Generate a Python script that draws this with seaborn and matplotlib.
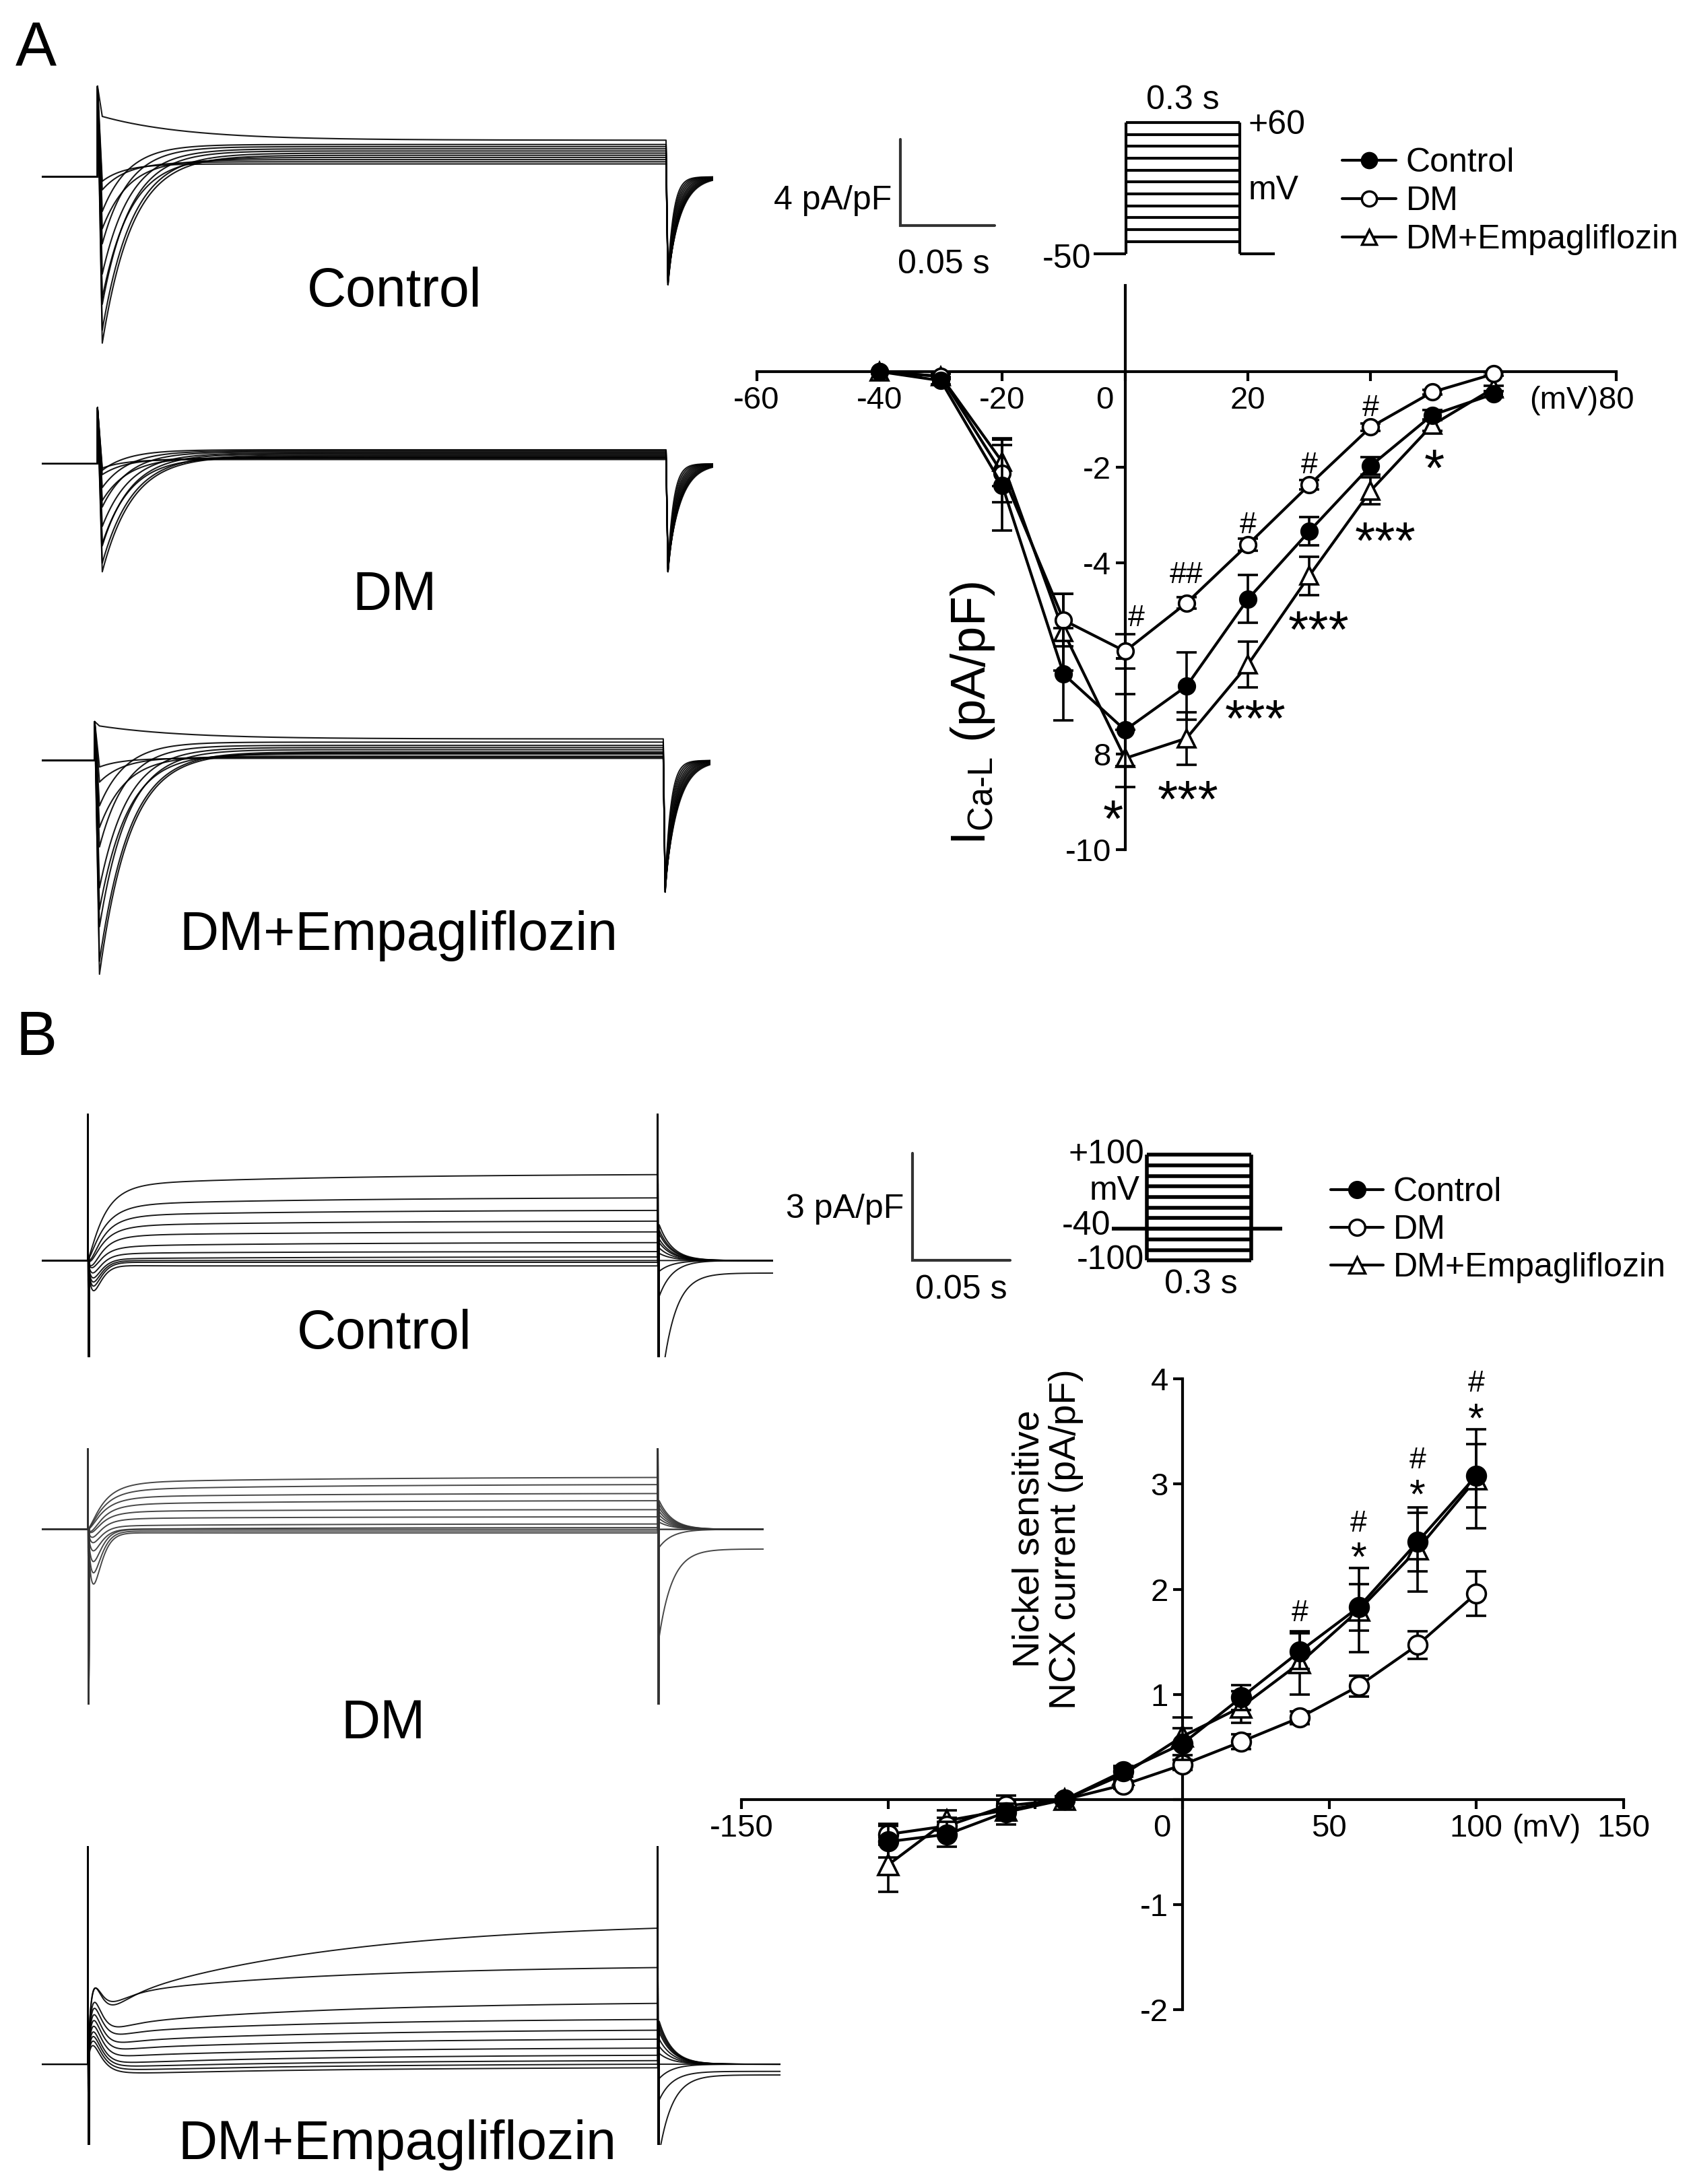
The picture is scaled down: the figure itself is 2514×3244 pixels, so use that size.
import numpy as np
import pandas as pd
import matplotlib
matplotlib.use("Agg")
import matplotlib.pyplot as plt
import matplotlib.transforms as mtransforms
from matplotlib.lines import Line2D
from matplotlib.font_manager import FontProperties
import seaborn as sns

sns.set_theme(style="white", rc={"axes.edgecolor": "black", "text.color": "black",
                                 "xtick.color": "black", "ytick.color": "black",
                                 "axes.labelcolor": "black"})
plt.rcParams["font.family"] = ["Liberation Sans", "DejaVu Sans"]
plt.rcParams["mathtext.fontset"] = "custom"
plt.rcParams["mathtext.rm"] = "Liberation Sans"
plt.rcParams["mathtext.it"] = "Liberation Sans:italic"
plt.rcParams["mathtext.bf"] = "Liberation Sans:bold"
NARROW = ["Liberation Sans Narrow", "Liberation Sans", "DejaVu Sans"]
REG = ["Liberation Sans", "DejaVu Sans"]

# ---------------------------------------------------------------- data
groups = ["Control", "DM", "DM+Empagliflozin"]

# Panel A : L-type Ca current I-V
volt_a = [-40, -30, -20, -10, 0, 10, 20, 30, 40, 50, 60]
ctrl_a = [0.0, -0.19, -2.38, -6.33, -7.50, -6.58, -4.76, -3.34, -1.97, -0.91, -0.47]
ctrl_a_err = [0.0, 0.08, 0.95, 0.97, 0.75, 0.70, 0.50, 0.30, 0.18, 0.10, 0.06]
dm_a = [0.0, -0.10, -2.13, -5.20, -5.85, -4.84, -3.62, -2.37, -1.16, -0.43, -0.05]
dm_a_err = [0.0, 0.05, 0.60, 0.55, 0.36, 0.12, 0.12, 0.10, 0.08, 0.05, 0.03]
emp_a = [0.0, -0.10, -1.89, -5.45, -8.09, -7.67, -6.13, -4.27, -2.49, -1.12, -0.35]
emp_a_err = [0.0, 0.05, 0.50, 0.80, 0.60, 0.55, 0.48, 0.40, 0.28, 0.12, 0.06]
xt_a = [-60, -40, -20, 0, 20, 40, 60, 80]
xt_a_lab = ["-60", "-40", "-20", "0", "20", "", "", "80"]
yt_a = [-10, -8, -6, -4, -2]
yt_a_lab = ["-10", "8", "", "-4", "-2"]
sig_a_x = [1.8, 10, 20, 30, 40, 50.3, 42.4, 31.5, 21.2, 10.2, -2.0]
sig_a_y = [-5.1, -4.2, -3.15, -1.9, -0.7, -1.76, -3.28, -5.15, -7.0, -8.7, -9.1]
sig_a_txt = ["#", "##", "#", "#", "#", "*", "***", "***", "***", "***", "*"]

# Panel B : Ni-sensitive NCX current I-V
volt_b = [-100, -80, -60, -40, -20, 0, 20, 40, 60, 80, 100]
ctrl_b = [-0.40, -0.33, -0.12, 0.0, 0.27, 0.53, 0.97, 1.41, 1.83, 2.45, 3.08]
ctrl_b_err = [0.15, 0.12, 0.08, 0.03, 0.05, 0.15, 0.12, 0.17, 0.22, 0.28, 0.30]
dm_b = [-0.33, -0.25, -0.06, 0.0, 0.14, 0.33, 0.55, 0.78, 1.08, 1.47, 1.96]
dm_b_err = [0.10, 0.08, 0.05, 0.02, 0.04, 0.05, 0.07, 0.06, 0.10, 0.13, 0.21]
emp_b = [-0.62, -0.20, -0.10, 0.0, 0.24, 0.60, 0.88, 1.30, 1.80, 2.38, 3.05]
emp_b_err = [0.26, 0.10, 0.14, 0.03, 0.06, 0.18, 0.15, 0.30, 0.40, 0.40, 0.47]
xt_b = [-150, -100, -50, 0, 50, 100, 150]
xt_b_lab = ["-150", "", "", "0", "50", "100", "150"]
yt_b = [-2, -1, 0, 1, 2, 3, 4]
yt_b_lab = ["-2", "-1", "", "1", "2", "3", "4"]
sig_b_x = [40, 60, 60, 80, 80, 100, 100]
sig_b_y = [1.8, 2.65, 2.4, 3.25, 3.0, 3.98, 3.72]
sig_b_txt = ["#", "#", "*", "#", "*", "#", "*"]

# voltage protocols (mV)
protA_levels = [-40, -30, -20, -10, 0, 10, 20, 30, 40, 50, 60]
protA_hold = -50
protB_levels = [-100, -80, -60, -40, -20, 0, 20, 40, 60, 80, 100]
protB_hold = -40

# example Ca current traces (pA/pF), one per test pulse -40..+60 mV
trA_ctrl_pk = [-0.2, -0.6, -2.4, -5.6, -7.7, -7.1, -5.9, -4.5, -3.1, -1.6, 2.8]
trA_ctrl_ss = [0.6, 0.7, 0.8, 0.9, 1.0, 1.1, 1.2, 1.3, 1.4, 1.5, 1.7]
trA_ctrl_tau = [12, 13, 14, 15, 16, 16, 15, 15, 14, 14, 45]
trA_ctrl_tail = [-4.6, -4.7, -4.8, -4.9, -5.0, -5.0, -5.0, -4.9, -4.8, -4.7, -4.6]
trA_ctrl_ttau = [3.0, 3.4, 3.8, 4.2, 4.6, 5.0, 5.4, 5.8, 6.2, 6.6, 7.0]
trA_ctrl_spike = 4.2
trA_dm_pk = [-0.2, -0.5, -1.7, -3.7, -5.0, -4.6, -3.8, -2.9, -2.0, -1.1, -0.3]
trA_dm_ss = [0.2, 0.25, 0.3, 0.3, 0.35, 0.4, 0.45, 0.5, 0.55, 0.6, 0.65]
trA_dm_tau = [12, 13, 14, 15, 16, 16, 15, 15, 14, 14, 14]
trA_dm_tail = [-4.8, -4.9, -5.0, -5.0, -5.0, -5.0, -5.0, -4.9, -4.8, -4.7, -4.6]
trA_dm_ttau = [3.0, 3.4, 3.8, 4.2, 4.6, 5.0, 5.4, 5.8, 6.2, 6.6, 7.0]
trA_dm_spike = 2.6
trA_emp_pk = [-0.3, -1.0, -3.1, -6.9, -9.9, -9.3, -7.7, -5.9, -4.0, -2.1, 1.6]
trA_emp_ss = [0.1, 0.15, 0.2, 0.3, 0.35, 0.4, 0.5, 0.6, 0.7, 0.85, 1.0]
trA_emp_tau = [12, 13, 14, 15, 16, 16, 15, 15, 14, 14, 45]
trA_emp_tail = [-5.8, -5.9, -6.0, -6.1, -6.1, -6.1, -6.0, -6.0, -5.9, -5.8, -5.7]
trA_emp_ttau = [3.0, 3.4, 3.8, 4.2, 4.6, 5.0, 5.4, 5.8, 6.2, 6.6, 7.0]
trA_emp_spike = 1.8

# example NCX current traces (pA/pF), one per test pulse -100..+100 mV
trB_ctrl_start = [-0.15, -0.05, 0.0, 0.05, 0.2, 0.4, 0.7, 0.97, 1.25, 1.55, 2.1]
trB_ctrl_end = [-0.15, -0.05, 0.0, 0.1, 0.25, 0.5, 0.8, 1.1, 1.4, 1.75, 2.4]
trB_ctrl_dip = [-0.8, -0.7, -0.6, -0.5, -0.4, -0.3, -0.3, -0.2, -0.2, -0.1, -0.1]
trB_ctrl_tail = [-4.0, -1.0, -0.3, 0.0, 0.2, 0.35, 0.5, 0.6, 0.75, 0.85, 1.0]
trB_ctrl_tailss = [-0.35, 0, 0, 0, 0, 0, 0, 0, 0, 0, 0]
trB_dm_start = [-0.1, -0.05, 0.0, 0.0, 0.1, 0.3, 0.5, 0.7, 0.9, 1.1, 1.3]
trB_dm_end = [-0.1, -0.05, 0.0, 0.05, 0.15, 0.35, 0.55, 0.8, 1.0, 1.25, 1.45]
trB_dm_dip = [-1.5, -1.2, -0.9, -0.6, -0.4, -0.3, -0.2, -0.2, -0.1, -0.1, -0.1]
trB_dm_tail = [-3.0, -0.5, 0.0, 0.0, 0.2, 0.3, 0.4, 0.5, 0.6, 0.7, 0.8]
trB_dm_tailss = [-0.55, 0, 0, 0, 0, 0, 0, 0, 0, 0, 0]
trB_emp_start = [-0.3, -0.2, -0.1, 0.0, 0.2, 0.4, 0.6, 0.85, 1.05, 1.9, 1.6]
trB_emp_end = [-0.1, 0.0, 0.1, 0.25, 0.45, 0.7, 0.95, 1.25, 1.7, 2.7, 3.8]
trB_emp_dip = [0.6, 0.7, 0.8, 0.9, 1.0, 1.1, 1.2, 1.3, 1.4, 1.5, 1.6]
trB_emp_tail = [-2.5, -1.0, -0.4, 0.0, 0.3, 0.5, 0.7, 0.9, 1.0, 1.1, 1.2]
trB_emp_tailss = [-0.3, -0.2, 0, 0, 0, 0, 0, 0, 0, 0, 0]

# ---------------------------------------------------------------- layout helpers
W, H = 1215.0, 1568.0
fig = plt.figure(figsize=(25.14, 32.44), dpi=100)
fig.patch.set_facecolor("white")


def fxy(x, y):
    return (x / W, 1 - y / H)


def box(x0, y0, x1, y1):
    return [x0 / W, 1 - y1 / H, (x1 - x0) / W, (y1 - y0) / H]


cv = fig.add_axes([0, 0, 1, 1])
cv.set_xlim(0, W)
cv.set_ylim(H, 0)
cv.axis("off")


def trace_axes(x0, x1, x_step, ppm, base_y, ppu, i_lo, i_hi):
    top = base_y - i_hi * ppu
    bot = base_y - i_lo * ppu
    ax = fig.add_axes(box(x0, top, x1, bot))
    ax.set_xlim((x0 - x_step) / ppm, (x1 - x_step) / ppm)
    ax.set_ylim(i_lo, i_hi)
    ax.axis("off")
    ax.set_facecolor("none")
    return ax


def ca_trace(t0, t1, pk, ss, tau, tail, ttau, spike):
    tp = 2.5
    t_pre = np.linspace(t0, 0, 40)
    t_on = np.linspace(0, 300, 3000)
    t_off = np.linspace(300, t1, 400)
    y_pre = np.zeros_like(t_pre)
    y_on = np.where(t_on < tp, spike + (pk - spike) * t_on / tp,
                    ss + (pk - ss) * np.exp(-(t_on - tp) / tau))
    d = t_off - 300
    y_off = np.where(d < 1.0, ss + (tail - ss) * d / 1.0, tail * np.exp(-(d - 1.0) / ttau))
    return np.concatenate([t_pre, t_on, t_off]), np.concatenate([y_pre, y_on, y_off])


def ncx_trace(t0, t1, start, end, dip, tail, tailss, s_hi=8.0, s_lo=8.0):
    t_pre = np.linspace(t0, 0, 40)
    t_on = np.linspace(0.8, 300, 1500)
    t_off = np.linspace(300.8, t1, 300)
    drift = (1 - np.exp(-t_on / 120.0)) / (1 - np.exp(-300 / 120.0))
    lvl = start + (end - start) * drift
    y_on = lvl * (1 - np.exp(-t_on / 9.0)) + dip * (t_on / 3.0) * np.exp(1 - t_on / 3.0)
    d = t_off - 300.8
    y_off = tailss + (tail - tailss) * np.exp(-d / 7.0)
    t = np.concatenate([t_pre, [0.0, 0.4], t_on, [300.0, 300.4], t_off])
    y = np.concatenate([np.zeros_like(t_pre), [s_hi, -s_lo], y_on, [s_hi, -s_lo], y_off])
    return t, y


# ---------------------------------------------------------------- traces, panel A
PPM_A, PPU_A = 408 / 300, 15.5
specs_a = [
    (30, 512, 70, 127, -8.2, 4.5, trA_ctrl_pk, trA_ctrl_ss, trA_ctrl_tau, trA_ctrl_tail, trA_ctrl_ttau, trA_ctrl_spike),
    (30, 512, 70, 333, -5.5, 3.0, trA_dm_pk, trA_dm_ss, trA_dm_tau, trA_dm_tail, trA_dm_ttau, trA_dm_spike),
    (30, 510, 68, 546, -10.3, 2.2, trA_emp_pk, trA_emp_ss, trA_emp_tau, trA_emp_tail, trA_emp_ttau, trA_emp_spike),
]
for x0, x1, xs, base, lo, hi, pks, sss, taus, tails, ttaus, spk in specs_a:
    ax = trace_axes(x0, x1, xs, PPM_A, base, PPU_A, lo, hi)
    t0, t1 = ax.get_xlim()
    for pk, ss, tau, tl, tt in zip(pks, sss, taus, tails, ttaus):
        t, y = ca_trace(t0, t1, pk, ss, tau, tl, tt, spk)
        ax.plot(t, y, color="black", lw=1.5, alpha=0.9)

# ---------------------------------------------------------------- traces, panel B
PPM_B, PPU_B = 409 / 300, 25.7
specs_b = [
    (30, 555, 63, 905, -2.7, 4.1, trB_ctrl_start, trB_ctrl_end, trB_ctrl_dip, trB_ctrl_tail, trB_ctrl_tailss, "black"),
    (30, 548, 63, 1098, -4.9, 2.26, trB_dm_start, trB_dm_end, trB_dm_dip, trB_dm_tail, trB_dm_tailss, "#333333"),
    (30, 560, 63, 1482, -2.26, 6.1, trB_emp_start, trB_emp_end, trB_emp_dip, trB_emp_tail, trB_emp_tailss, "black"),
]
for x0, x1, xs, base, lo, hi, st, en, dp, tl, tss, col in specs_b:
    ax = trace_axes(x0, x1, xs, PPM_B, base, PPU_B, lo, hi)
    t0, t1 = ax.get_xlim()
    for a, b, c, d, e in zip(st, en, dp, tl, tss):
        t, y = ncx_trace(t0, t1, a, b, c, d, e)
        ax.plot(t, y, color=col, lw=1.4, alpha=0.9)

# trace labels and panel letters
for x, y, s in [(283, 210, "Control"), (283, 428, "DM"), (286, 672, "DM+Empagliflozin"),
                (276, 958, "Control"), (275, 1238, "DM"), (285, 1540, "DM+Empagliflozin")]:
    cv.text(x, y, s, ha="center", va="center", fontsize=58, family=REG)
cv.text(26, 36, "A", ha="center", va="center", fontsize=66, family=REG)
cv.text(26, 746, "B", ha="center", va="center", fontsize=66, family=REG)

# scale bars
cv.plot([646, 646, 714], [100, 162, 162], color="#333333", lw=3, solid_joinstyle="miter")
cv.text(640, 144, "4 pA/pF", ha="right", va="center", fontsize=36, family=NARROW)
cv.text(677, 190, "0.05 s", ha="center", va="center", fontsize=36, family=NARROW)
cv.plot([655, 655, 725], [828, 905, 905], color="#333333", lw=3, solid_joinstyle="miter")
cv.text(649, 868, "3 pA/pF", ha="right", va="center", fontsize=36, family=NARROW)
cv.text(690, 926, "0.05 s", ha="center", va="center", fontsize=36, family=NARROW)

# ---------------------------------------------------------------- protocol A
axp = fig.add_axes(box(785, 88, 915, 182))
axp.set_xlim(-84, 391.5)
axp.set_ylim(protA_hold, max(protA_levels))
axp.axis("off")
axp.set_facecolor("none")
axp.hlines(protA_levels, 0, 300, color="black", lw=3, clip_on=False)
axp.vlines([0, 300], protA_hold, max(protA_levels), color="black", lw=3, clip_on=False)
axp.hlines(protA_hold, -84, 0, color="black", lw=3, clip_on=False)
axp.hlines(protA_hold, 300, 391.5, color="black", lw=3, clip_on=False)
cv.text(849, 72, "0.3 s", ha="center", va="center", fontsize=36, family=NARROW)
cv.text(896, 90, "+60", ha="left", va="center", fontsize=36, family=NARROW)
cv.text(896, 137, "mV", ha="left", va="center", fontsize=36, family=NARROW)
cv.text(783, 186, "-50", ha="right", va="center", fontsize=36, family=NARROW)

# ---------------------------------------------------------------- protocol B
axq = fig.add_axes(box(798, 829, 920, 905))
axq.set_xlim(-100, 388)
axq.set_ylim(min(protB_levels), max(protB_levels))
axq.axis("off")
axq.set_facecolor("none")
axq.hlines(protB_levels, 0, 300, color="black", lw=4, clip_on=False)
axq.vlines([0, 300], min(protB_levels), max(protB_levels), color="black", lw=4, clip_on=False)
axq.hlines(protB_hold, -100, 388, color="black", lw=4, clip_on=False)
cv.text(821, 829, "+100", ha="right", va="center", fontsize=36, family=NARROW)
cv.text(818, 855, "mV", ha="right", va="center", fontsize=36, family=NARROW)
cv.text(797, 880, "-40", ha="right", va="center", fontsize=36, family=NARROW)
cv.text(821, 905, "-100", ha="right", va="center", fontsize=36, family=NARROW)
cv.text(862, 922, "0.3 s", ha="center", va="center", fontsize=36, family=NARROW)

# ---------------------------------------------------------------- I-V plots
marker_style = {"Control": ("o", "black"), "DM": ("o", "white"), "DM+Empagliflozin": ("^", "white")}


def iv_frame(volt, series, errs):
    rows = []
    for g, vals, er in zip(groups, series, errs):
        for v, i, e in zip(volt, vals, er):
            rows.append({"V": v, "I": i, "err": e, "group": g})
    return pd.DataFrame(rows)


def draw_iv(ax, df, ms, zorders):
    for g in ["DM+Empagliflozin", "DM", "Control"]:
        d = df[df["group"] == g]
        m, fc = marker_style[g]
        ax.errorbar(d["V"], d["I"], yerr=d["err"], fmt="none", ecolor="black",
                    elinewidth=2.6, capsize=11, capthick=2.6, zorder=zorders[g])
        sns.lineplot(data=d, x="V", y="I", ax=ax, color="black", lw=3.0, marker=m,
                     markersize=ms if m == "o" else ms * 1.1, markerfacecolor=fc,
                     markeredgecolor="black", markeredgewidth=2.6, errorbar=None,
                     legend=False, zorder=zorders[g] + 0.5)
    ax.set_xlabel("")
    ax.set_ylabel("")


def style_axes(ax, xt, xl, yt, yl):
    ax.set_facecolor("none")
    for s in ["top", "right"]:
        ax.spines[s].set_visible(False)
    for s in ["left", "bottom"]:
        ax.spines[s].set_position(("data", 0))
        ax.spines[s].set_linewidth(3)
        ax.spines[s].set_color("black")
        ax.spines[s].set_zorder(1)
    ax.tick_params(axis="both", direction="out", length=10, width=3, pad=5,
                   bottom=True, left=True, labelsize=34)
    ax.set_xticks(xt)
    ax.set_xticklabels(xl, family=NARROW, fontsize=34)
    ax.set_yticks(yt)
    ax.set_yticklabels(yl, family=NARROW, fontsize=34)
    for tick in ax.xaxis.get_major_ticks():
        if tick.label1.get_text() == "0":
            tick.label1.set_transform(tick.label1.get_transform() +
                                      mtransforms.ScaledTranslation(-0.3, 0, fig.dpi_scale_trans))


def sig(ax, x, y, s, fs):
    c = 0.57 if "*" in s else 0.36
    ax.annotate(s, (x, y), xytext=(0, -c * fs), textcoords="offset points",
                ha="center", va="baseline", fontsize=fs, family=REG, zorder=6)


# Panel A I-V
axA = fig.add_axes(box(543, 205, 1160, 610))
dfA = iv_frame(volt_a, [ctrl_a, dm_a, emp_a], [ctrl_a_err, dm_a_err, emp_a_err])
draw_iv(axA, dfA, 17, {"Control": 4, "DM": 3, "DM+Empagliflozin": 2})
axA.set_xlim(-60, 80)
axA.set_ylim(-10, 1.8)
style_axes(axA, xt_a, xt_a_lab, yt_a, yt_a_lab)
axA.annotate("(mV)", (77, 0), xytext=(0, -15), textcoords="offset points",
             ha="right", va="top", fontsize=34, family=NARROW)
for x, y, s in zip(sig_a_x, sig_a_y, sig_a_txt):
    sig(axA, x, y, s, 56 if "*" in s else 32)
cv.text(698, 512, r"I$_{\text{Ca-L}}$ (pA/pF)", rotation=90, ha="center", va="center",
        fontsize=52, family=REG)

# Panel B I-V
axB = fig.add_axes(box(532, 990, 1165, 1443))
dfB = iv_frame(volt_b, [ctrl_b, dm_b, emp_b], [ctrl_b_err, dm_b_err, emp_b_err])
draw_iv(axB, dfB, 20, {"Control": 4, "DM": 3, "DM+Empagliflozin": 2})
axB.set_xlim(-150, 150)
axB.set_ylim(-2, 4)
style_axes(axB, xt_b, xt_b_lab, yt_b, yt_b_lab)
axB.annotate("(mV)", (112, 0), xytext=(0, -15), textcoords="offset points",
             ha="left", va="top", fontsize=34, family=NARROW)
for x, y, s in zip(sig_b_x, sig_b_y, sig_b_txt):
    sig(axB, x, y, s, 44 if "*" in s else 32)
cv.text(752, 1105, "Nickel sensitive\nNCX current (pA/pF)", rotation=90, ha="center",
        va="center", multialignment="center", fontsize=40, family=NARROW, linespacing=1.05)

# ---------------------------------------------------------------- legends
def handles(ms):
    hs = []
    for g in groups:
        m, fc = marker_style[g]
        hs.append(Line2D([], [], color="black", lw=3, marker=m, markersize=ms,
                         markerfacecolor=fc, markeredgecolor="black", markeredgewidth=2.5))
    return hs


leg_font = FontProperties(family=NARROW, size=36)
fig.legend(handles(16), groups, loc="upper left", bbox_to_anchor=fxy(963, 106),
           frameon=False, prop=leg_font, handlelength=1.6, handletextpad=0.3,
           labelspacing=0.22, borderpad=0, borderaxespad=0)
fig.legend(handles(17), groups, loc="upper left", bbox_to_anchor=fxy(955, 845),
           frameon=False, prop=leg_font, handlelength=1.55, handletextpad=0.3,
           labelspacing=0.2, borderpad=0, borderaxespad=0)

fig.savefig("out.png", dpi=100, facecolor="white")
